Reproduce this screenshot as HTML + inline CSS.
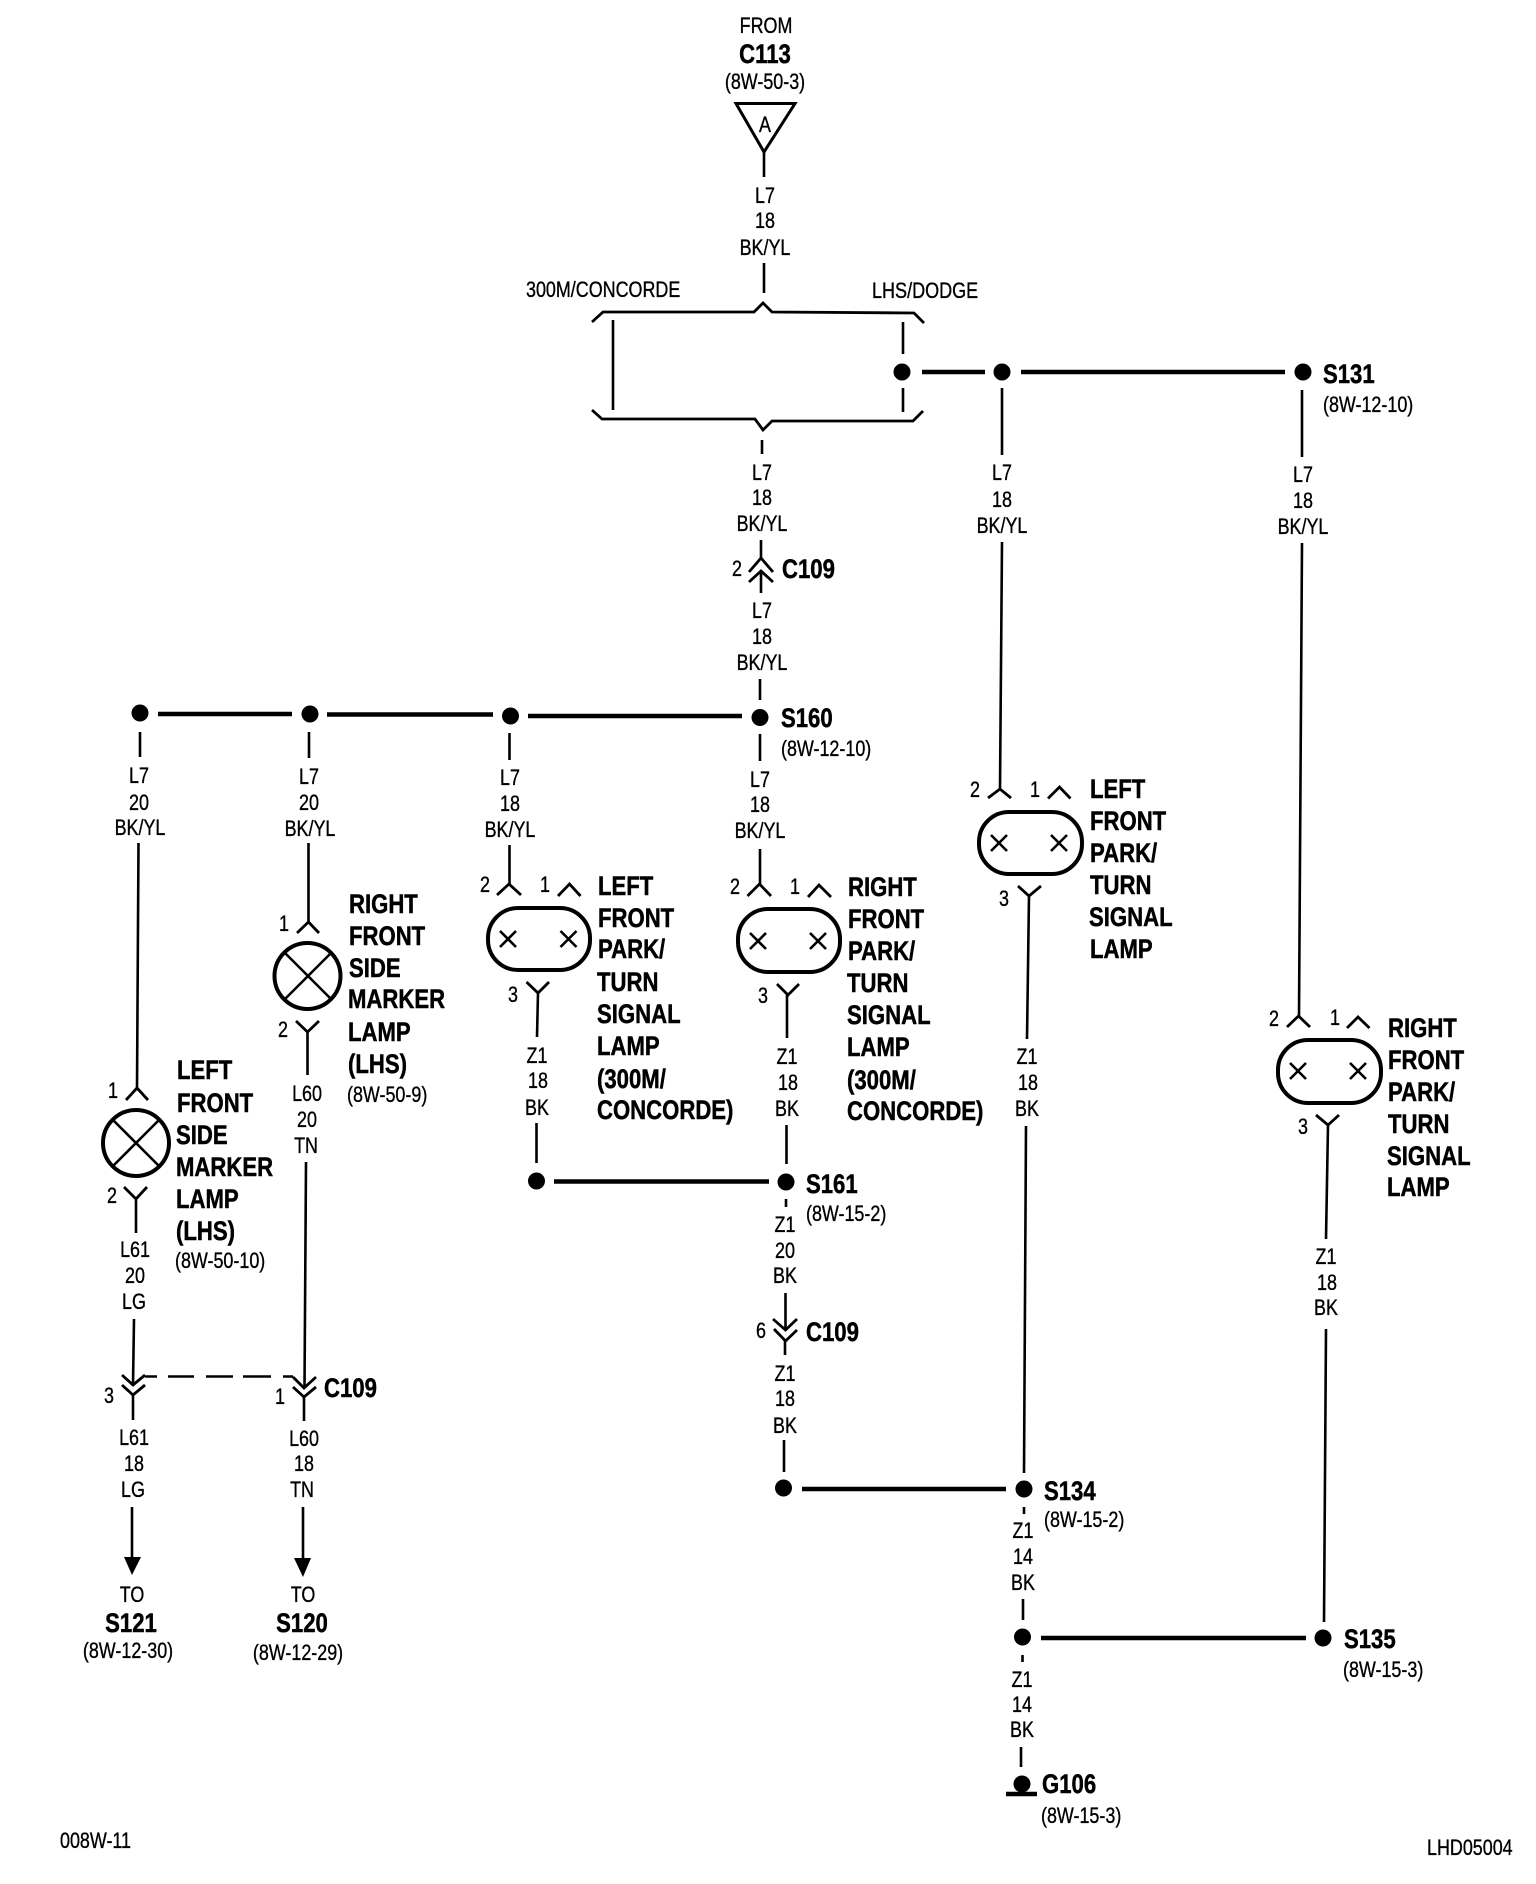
<!DOCTYPE html>
<html><head><meta charset="utf-8"><style>
html,body{margin:0;padding:0;background:#fff}
svg{display:block}
text{font-family:"Liberation Sans",sans-serif;fill:#000}
.t{font-size:22px;stroke:#000;stroke-width:.35px}
.b{font-size:27px;font-weight:700;stroke:#000;stroke-width:.5px}
.m{text-anchor:middle}
.w{fill:none;stroke:#000;stroke-width:2.6}
.h{fill:none;stroke:#000;stroke-width:4.5}
.c{fill:none;stroke:#000;stroke-width:2.8}
.l{fill:none;stroke:#000;stroke-width:4}
</style></head><body>
<svg xmlns="http://www.w3.org/2000/svg" width="1536" height="1884" viewBox="0 0 1536 1884">
<rect width="1536" height="1884" fill="#fff"/>
<!-- wires vertical -->
<path class="w" d="M764 152V177M764 263V293M613 320V410M903 322V354M903 388V412M762 440V454
M761 540V558M761 571V593M760 679V700M760 734V761M760 849V884M760 884
M140 732V757M138.500 843L137 1088M309 732V758M308.500 843V922M509.500 733V760M509.500 845V884
M1002 388V455M1002 542L1000 789M1302 390V457M1302 543L1299 1016
M136 1199V1233M134 1319L133 1385M133 1395V1420M132 1507V1557
M307.500 1032V1075M306 1162L304.500 1388M304 1397V1421M303 1507V1558
M538 993L537 1037M536.500 1123V1163M787 995V1038M786.500 1125V1164M786 1199V1207M785.500 1293V1330M785 1341V1355M784 1440V1472
M1029 896L1027 1039M1026 1126L1024 1473M1024 1507V1514M1023 1599V1620M1022.500 1655V1662M1021 1747V1767
M1328 1125L1326 1239M1326 1329L1324 1622"/>
<!-- wires horizontal -->
<path class="h" d="M922 372H985M1021 372H1285M158 714H292M327 714.500H493M528 716H742M554 1181.500H769M802 1489H1006M1041 1638H1306M1006 1794H1037"/>
<!-- dashed link -->
<path class="w" d="M145 1376.500H157M168 1376.500H194M206 1376.500H233M243 1376.500H271M283 1376.500H293"/>
<!-- brackets -->
<path class="c" d="M592 322L603 312H754L763 303L772 312L914 313L924 323M592 410L602 419H755L763 430L772 421H913L923 411"/>
<!-- triangle -->
<path class="l" stroke-linejoin="miter" style="stroke-width:3" d="M736 103.500H795L764 152Z"/>
<!-- dots -->
<g fill="#000">
<circle cx="902" cy="372" r="8.500"/><circle cx="1002" cy="372" r="8.500"/><circle cx="1303" cy="372" r="8.500"/>
<circle cx="140" cy="713" r="8.500"/><circle cx="310" cy="714" r="8.500"/><circle cx="510.500" cy="716" r="8.500"/><circle cx="760" cy="717.500" r="8.500"/>
<circle cx="536.500" cy="1181" r="8.500"/><circle cx="786" cy="1182" r="8.500"/>
<circle cx="783.500" cy="1488" r="8.500"/><circle cx="1024" cy="1489" r="8.500"/><circle cx="1022.500" cy="1637" r="8.500"/><circle cx="1323" cy="1638" r="8.500"/>
<circle cx="1022" cy="1784" r="8.500"/>
<polygon points="124,1557 141,1557 132,1575"/><polygon points="294,1558 311,1558 303,1577"/>
</g>
<!-- connector chevrons -->
<path class="c" d="M749 572L761 558L773 572M749 582L761 571L773 582
M126 1100L137 1088L148 1100M297 933L308.500 922L319 933
M497 895L509 884L521 895M558 896L569.500 884L580.500 896M747.500 896L759.500 884L771 896M808 897L819 885L831 897
M988 798L1000 789L1011 798M1048 798.500L1059.500 787L1070.500 798.500M1287 1027L1298.500 1016L1310 1027M1347 1028L1358 1017L1369.500 1028
M124 1187L136 1199L147 1187M296 1021L307.500 1032L319 1021
M526.500 982L538 993L549 982M777 984L788 995L799 984M1018 886L1029 896L1041 886M1316 1115L1328 1125L1339 1115
M773 1319L785.500 1330L797 1319M774 1329L785.500 1341L797 1330
M122 1375L133 1385L145 1375M122 1385L133 1395L145 1385
M293 1377L304 1388L316 1377M293 1387L304 1397L316 1387"/>
<!-- lamps -->
<g class="l">
<circle cx="136" cy="1143" r="33" fill="none" stroke="#000" stroke-width="4"/>
<circle cx="307.500" cy="976" r="33" fill="none" stroke="#000" stroke-width="4"/>
<rect x="488" y="908" width="102" height="62" rx="30" ry="30" fill="none" stroke="#000" stroke-width="4"/>
<rect x="738" y="909" width="102" height="63" rx="30" ry="30" fill="none" stroke="#000" stroke-width="4"/>
<rect x="979" y="812" width="103" height="62" rx="30" ry="30" fill="none" stroke="#000" stroke-width="4"/>
<rect x="1278" y="1040" width="103" height="63" rx="30" ry="30" fill="none" stroke="#000" stroke-width="4"/>
</g>
<path class="w" d="M113 1120L159 1166M159 1120L113 1166M285 953L331 999M331 953L285 999
M500 931L516 947M516 931L500 947M560.500 931L576.500 947M576.500 931L560.500 947
M750 933L766 949M766 933L750 949M810 933L826 949M826 933L810 949
M991 835L1007 851M1007 835L991 851M1051 835L1067 851M1067 835L1051 851
M1290 1063L1306 1079M1306 1063L1290 1079M1350 1063L1366 1079M1366 1063L1350 1079"/>
<!-- top labels -->
<text class="t m" transform="translate(766 33) scale(.815 1)">FROM</text>
<text class="b m" transform="translate(765 63) scale(.82 1)">C113</text>
<text class="t m" transform="translate(765 89) scale(.815 1)">(8W-50-3)</text>
<text class="t m" transform="translate(765 132) scale(.815 1)">A</text>
<text class="t m" transform="translate(765 203) scale(.815 1)">L7</text>
<text class="t m" transform="translate(765 228) scale(.815 1)">18</text>
<text class="t m" transform="translate(765 255) scale(.815 1)">BK/YL</text>
<text class="t" transform="translate(526 297) scale(.815 1)">300M/CONCORDE</text>
<text class="t" transform="translate(872 298) scale(.82 1)">LHS/DODGE</text>
<!-- center column labels -->
<text class="t m" transform="translate(762 480) scale(.815 1)">L7</text>
<text class="t m" transform="translate(762 505) scale(.815 1)">18</text>
<text class="t m" transform="translate(762 531) scale(.815 1)">BK/YL</text>
<text class="t m" transform="translate(737 576) scale(.815 1)">2</text>
<text class="b" transform="translate(782 578) scale(.82 1)">C109</text>
<text class="t m" transform="translate(762 618) scale(.815 1)">L7</text>
<text class="t m" transform="translate(762 644) scale(.815 1)">18</text>
<text class="t m" transform="translate(762 670) scale(.815 1)">BK/YL</text>
<text class="b" transform="translate(781 727) scale(.82 1)">S160</text>
<text class="t" transform="translate(781 756) scale(.815 1)">(8W-12-10)</text>
<text class="t m" transform="translate(760 787) scale(.815 1)">L7</text>
<text class="t m" transform="translate(760 812) scale(.815 1)">18</text>
<text class="t m" transform="translate(760 838) scale(.815 1)">BK/YL</text>
<!-- right column wires labels -->
<text class="b" transform="translate(1323 383) scale(.82 1)">S131</text>
<text class="t" transform="translate(1323 412) scale(.815 1)">(8W-12-10)</text>
<text class="t m" transform="translate(1002 480) scale(.815 1)">L7</text>
<text class="t m" transform="translate(1002 507) scale(.815 1)">18</text>
<text class="t m" transform="translate(1002 533) scale(.815 1)">BK/YL</text>
<text class="t m" transform="translate(1303 482) scale(.815 1)">L7</text>
<text class="t m" transform="translate(1303 508) scale(.815 1)">18</text>
<text class="t m" transform="translate(1303 534) scale(.815 1)">BK/YL</text>
<!-- left labels -->
<text class="t m" transform="translate(139 783) scale(.815 1)">L7</text>
<text class="t m" transform="translate(139 810) scale(.815 1)">20</text>
<text class="t m" transform="translate(140 835) scale(.815 1)">BK/YL</text>
<text class="t m" transform="translate(309 784) scale(.815 1)">L7</text>
<text class="t m" transform="translate(309 810) scale(.815 1)">20</text>
<text class="t m" transform="translate(310 836) scale(.815 1)">BK/YL</text>
<text class="t m" transform="translate(510 785) scale(.815 1)">L7</text>
<text class="t m" transform="translate(510 811) scale(.815 1)">18</text>
<text class="t m" transform="translate(510 837) scale(.815 1)">BK/YL</text>
<!-- pins -->
<text class="t m" transform="translate(113 1098) scale(.815 1)">1</text>
<text class="t m" transform="translate(112 1203) scale(.815 1)">2</text>
<text class="t m" transform="translate(284 931) scale(.815 1)">1</text>
<text class="t m" transform="translate(283 1037) scale(.815 1)">2</text>
<text class="t m" transform="translate(485 892) scale(.815 1)">2</text>
<text class="t m" transform="translate(545 892) scale(.815 1)">1</text>
<text class="t m" transform="translate(513 1002) scale(.815 1)">3</text>
<text class="t m" transform="translate(735 894) scale(.815 1)">2</text>
<text class="t m" transform="translate(795 894) scale(.815 1)">1</text>
<text class="t m" transform="translate(763 1003) scale(.815 1)">3</text>
<text class="t m" transform="translate(975 797) scale(.815 1)">2</text>
<text class="t m" transform="translate(1035 797) scale(.815 1)">1</text>
<text class="t m" transform="translate(1004 906) scale(.815 1)">3</text>
<text class="t m" transform="translate(1274 1026) scale(.815 1)">2</text>
<text class="t m" transform="translate(1335 1025) scale(.815 1)">1</text>
<text class="t m" transform="translate(1303 1134) scale(.815 1)">3</text>
<text class="t m" transform="translate(109 1403) scale(.815 1)">3</text>
<text class="t m" transform="translate(280 1404) scale(.815 1)">1</text>
<text class="t m" transform="translate(761 1338) scale(.815 1)">6</text>
<!-- left lamp label -->
<text class="b" transform="translate(177 1079) scale(.82 1)">LEFT</text>
<text class="b" transform="translate(177 1112) scale(.82 1)">FRONT</text>
<text class="b" transform="translate(176 1144) scale(.82 1)">SIDE</text>
<text class="b" transform="translate(176 1176) scale(.82 1)">MARKER</text>
<text class="b" transform="translate(176 1208) scale(.82 1)">LAMP</text>
<text class="b" transform="translate(176 1240) scale(.82 1)">(LHS)</text>
<text class="t" transform="translate(175 1268) scale(.815 1)">(8W-50-10)</text>
<!-- right marker label -->
<text class="b" transform="translate(349 913) scale(.82 1)">RIGHT</text>
<text class="b" transform="translate(349 945) scale(.82 1)">FRONT</text>
<text class="b" transform="translate(349 977) scale(.82 1)">SIDE</text>
<text class="b" transform="translate(348 1008) scale(.82 1)">MARKER</text>
<text class="b" transform="translate(348 1041) scale(.82 1)">LAMP</text>
<text class="b" transform="translate(348 1073) scale(.82 1)">(LHS)</text>
<text class="t" transform="translate(347 1102) scale(.815 1)">(8W-50-9)</text>
<!-- lamp A label -->
<text class="b" transform="translate(598 895) scale(.82 1)">LEFT</text>
<text class="b" transform="translate(598 927) scale(.82 1)">FRONT</text>
<text class="b" transform="translate(598 958) scale(.82 1)">PARK/</text>
<text class="b" transform="translate(597 991) scale(.82 1)">TURN</text>
<text class="b" transform="translate(597 1023) scale(.82 1)">SIGNAL</text>
<text class="b" transform="translate(597 1055) scale(.82 1)">LAMP</text>
<text class="b" transform="translate(597 1088) scale(.82 1)">(300M/</text>
<text class="b" transform="translate(597 1119) scale(.82 1)">CONCORDE)</text>
<!-- lamp B label -->
<text class="b" transform="translate(848 896) scale(.82 1)">RIGHT</text>
<text class="b" transform="translate(848 928) scale(.82 1)">FRONT</text>
<text class="b" transform="translate(848 960) scale(.82 1)">PARK/</text>
<text class="b" transform="translate(847 992) scale(.82 1)">TURN</text>
<text class="b" transform="translate(847 1024) scale(.82 1)">SIGNAL</text>
<text class="b" transform="translate(847 1056) scale(.82 1)">LAMP</text>
<text class="b" transform="translate(847 1089) scale(.82 1)">(300M/</text>
<text class="b" transform="translate(847 1120) scale(.82 1)">CONCORDE)</text>
<!-- lamp C label -->
<text class="b" transform="translate(1090 798) scale(.82 1)">LEFT</text>
<text class="b" transform="translate(1090 830) scale(.82 1)">FRONT</text>
<text class="b" transform="translate(1090 862) scale(.82 1)">PARK/</text>
<text class="b" transform="translate(1090 894) scale(.82 1)">TURN</text>
<text class="b" transform="translate(1089 926) scale(.82 1)">SIGNAL</text>
<text class="b" transform="translate(1090 958) scale(.82 1)">LAMP</text>
<!-- lamp D label -->
<text class="b" transform="translate(1388 1037) scale(.82 1)">RIGHT</text>
<text class="b" transform="translate(1388 1069) scale(.82 1)">FRONT</text>
<text class="b" transform="translate(1388 1101) scale(.82 1)">PARK/</text>
<text class="b" transform="translate(1388 1133) scale(.82 1)">TURN</text>
<text class="b" transform="translate(1387 1165) scale(.82 1)">SIGNAL</text>
<text class="b" transform="translate(1387 1196) scale(.82 1)">LAMP</text>
<!-- lower wire labels -->
<text class="t m" transform="translate(537 1063) scale(.815 1)">Z1</text>
<text class="t m" transform="translate(538 1088) scale(.815 1)">18</text>
<text class="t m" transform="translate(537 1115) scale(.815 1)">BK</text>
<text class="t m" transform="translate(787 1064) scale(.815 1)">Z1</text>
<text class="t m" transform="translate(788 1090) scale(.815 1)">18</text>
<text class="t m" transform="translate(787 1116) scale(.815 1)">BK</text>
<text class="t m" transform="translate(1027 1064) scale(.815 1)">Z1</text>
<text class="t m" transform="translate(1028 1090) scale(.815 1)">18</text>
<text class="t m" transform="translate(1027 1116) scale(.815 1)">BK</text>
<text class="t m" transform="translate(1326 1264) scale(.815 1)">Z1</text>
<text class="t m" transform="translate(1327 1290) scale(.815 1)">18</text>
<text class="t m" transform="translate(1326 1315) scale(.815 1)">BK</text>
<text class="b" transform="translate(806 1193) scale(.82 1)">S161</text>
<text class="t" transform="translate(806 1221) scale(.815 1)">(8W-15-2)</text>
<text class="t m" transform="translate(785 1232) scale(.815 1)">Z1</text>
<text class="t m" transform="translate(785 1258) scale(.815 1)">20</text>
<text class="t m" transform="translate(785 1283) scale(.815 1)">BK</text>
<text class="b" transform="translate(806 1341) scale(.82 1)">C109</text>
<text class="t m" transform="translate(785 1381) scale(.815 1)">Z1</text>
<text class="t m" transform="translate(785 1406) scale(.815 1)">18</text>
<text class="t m" transform="translate(785 1433) scale(.815 1)">BK</text>
<text class="b" transform="translate(1044 1500) scale(.82 1)">S134</text>
<text class="t" transform="translate(1044 1527) scale(.815 1)">(8W-15-2)</text>
<text class="t m" transform="translate(1023 1538) scale(.815 1)">Z1</text>
<text class="t m" transform="translate(1023 1564) scale(.815 1)">14</text>
<text class="t m" transform="translate(1023 1590) scale(.815 1)">BK</text>
<text class="b" transform="translate(1344 1648) scale(.82 1)">S135</text>
<text class="t" transform="translate(1343 1677) scale(.815 1)">(8W-15-3)</text>
<text class="t m" transform="translate(1022 1687) scale(.815 1)">Z1</text>
<text class="t m" transform="translate(1022 1712) scale(.815 1)">14</text>
<text class="t m" transform="translate(1022 1737) scale(.815 1)">BK</text>
<text class="b" transform="translate(1042 1793) scale(.82 1)">G106</text>
<text class="t" transform="translate(1041 1823) scale(.815 1)">(8W-15-3)</text>
<!-- marker wires -->
<text class="t m" transform="translate(135 1257) scale(.815 1)">L61</text>
<text class="t m" transform="translate(135 1283) scale(.815 1)">20</text>
<text class="t m" transform="translate(134 1309) scale(.815 1)">LG</text>
<text class="t m" transform="translate(307 1101) scale(.815 1)">L60</text>
<text class="t m" transform="translate(307 1127) scale(.815 1)">20</text>
<text class="t m" transform="translate(306 1153) scale(.815 1)">TN</text>
<text class="b" transform="translate(324 1397) scale(.82 1)">C109</text>
<text class="t m" transform="translate(134 1445) scale(.815 1)">L61</text>
<text class="t m" transform="translate(134 1471) scale(.815 1)">18</text>
<text class="t m" transform="translate(133 1497) scale(.815 1)">LG</text>
<text class="t m" transform="translate(304 1446) scale(.815 1)">L60</text>
<text class="t m" transform="translate(304 1471) scale(.815 1)">18</text>
<text class="t m" transform="translate(302 1497) scale(.815 1)">TN</text>
<text class="t m" transform="translate(132 1602) scale(.815 1)">TO</text>
<text class="b m" transform="translate(131 1632) scale(.82 1)">S121</text>
<text class="t m" transform="translate(128 1658) scale(.815 1)">(8W-12-30)</text>
<text class="t m" transform="translate(303 1602) scale(.815 1)">TO</text>
<text class="b m" transform="translate(302 1632) scale(.82 1)">S120</text>
<text class="t m" transform="translate(298 1660) scale(.815 1)">(8W-12-29)</text>
<!-- footer -->
<text class="t" transform="translate(60 1848) scale(.815 1)">008W-11</text>
<text class="t" transform="translate(1427 1855) scale(.815 1)">LHD05004</text>
</svg>
</body></html>
